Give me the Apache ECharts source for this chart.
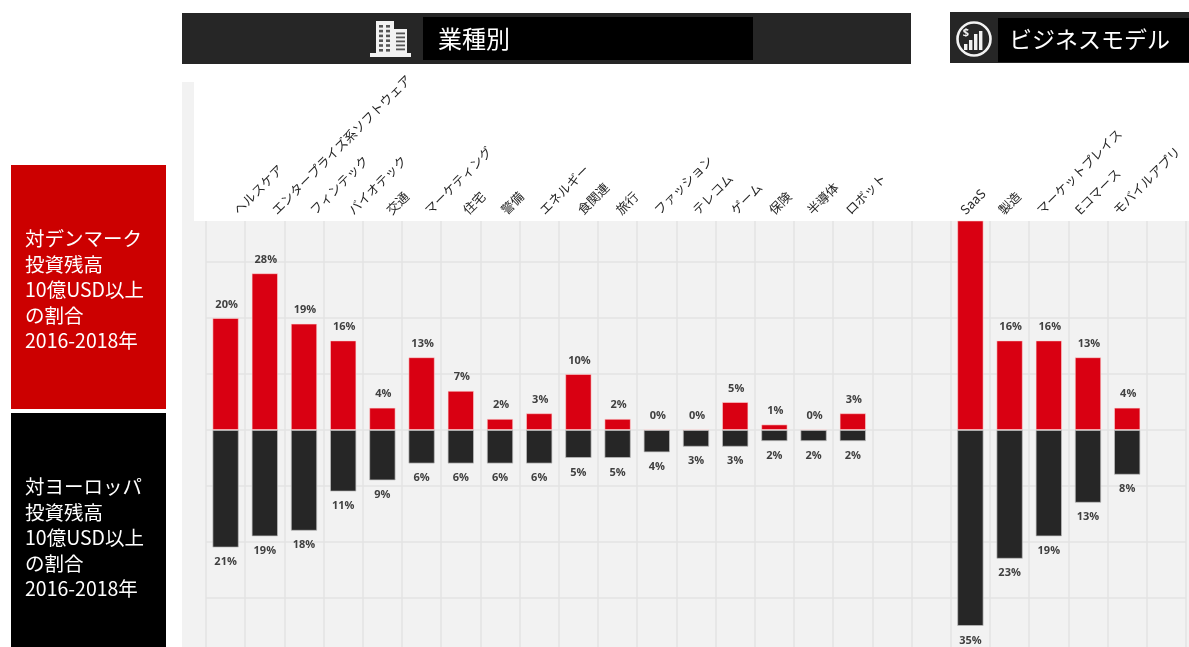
<!DOCTYPE html>
<html lang="ja">
<head>
<meta charset="utf-8">
<title>投資残高10億USD以上の割合</title>
<script src="https://cdn.jsdelivr.net/npm/echarts@6/dist/echarts.min.js"></script>
<style>
html,body{margin:0;padding:0;background:#fff;overflow:hidden}
#chart{width:1189px;height:647px}
</style>
</head>
<body>
<div id="chart"></div>
<script>
// Sectors and business models; empty names are spacer columns between the two groups
const categories = [
  'ヘルスケア', 'エンタープライズ系ソフトウェア', 'フィンテック', 'バイオテック', '交通',
  'マーケティング', '住宅', '警備', 'エネルギー', '食関連', '旅行', 'ファッション',
  'テレコム', 'ゲーム', '保険', '半導体', 'ロボット', '', '',
  'SaaS', '製造', 'マーケットプレイス', 'Eコマース', 'モバイルアプリ', ''
];

// Share of investment balance of 1bn USD or more, in percent (null = no bar)
const denmarkShare = [20, 28, 19, 16, 4, 13, 7, 2, 3, 10, 2, 0, 0, 5, 1, 0, 3, null, null, 38, 16, 16, 13, 4, null];
const europeShare = [21, 19, 18, 11, 9, 6, 6, 6, 6, 5, 5, 4, 3, 3, 2, 2, 2, null, null, 35, 23, 19, 13, 8, null];

// The SaaS bar runs off the top of the plot, so it carries no label
const unlabelledDenmark = ['SaaS'];

const gridValues = [-30, -20, -10, 0, 10, 20, 30];

const denmarkCaption = ['対デンマーク', '投資残高', '10億USD以上', 'の割合', '2016-2018年'];
const europeCaption = ['対ヨーロッパ', '投資残高', '10億USD以上', 'の割合', '2016-2018年'];
const sectorHeading = '業種別';
const modelHeading = 'ビジネスモデル';

const FONT = '"Noto Sans CJK JP", sans-serif';
const LABEL_FONT = '"Open Sans", sans-serif';
const RED = '#d90012';
const DARK = '#262626';
const PANEL = '#f2f2f2';
const LINE = '#e3e3e3';

const rect = (x, y, width, height, fill, z) => ({
  type: 'rect', shape: { x, y, width, height }, style: { fill }, z, silent: true
});

const caption = (lines, x, y0, step) => lines.map((text, i) => ({
  type: 'text', x, y: y0 + i * step, z: 120, silent: true,
  style: { text, fill: '#fff', font: '19.5px ' + FONT, textVerticalAlign: 'middle' }
}));

// Office block glyph for the sector heading
const buildingIcon = () => {
  const parts = [
    rect(376, 21, 18, 32, '#f2f2f2', 110),
    rect(393, 29, 14, 24, '#f2f2f2', 110),
    rect(370, 53, 41, 4, '#f2f2f2', 110)
  ];
  for (let row = 0; row < 6; row++) {
    parts.push(rect(379, 25 + row * 4.8, 4, 2.6, '#555', 111));
    parts.push(rect(386, 25 + row * 4.8, 4, 2.6, '#555', 111));
  }
  for (let row = 0; row < 5; row++) {
    parts.push(rect(396, 32.5 + row * 4, 9, 1.8, '#555', 111));
  }
  return parts;
};

// Ringed rising-bars glyph for the business model heading
const modelIcon = () => {
  const parts = [{
    type: 'circle', z: 110, silent: true,
    shape: { cx: 974, cy: 39, r: 16.5 },
    style: { fill: 'none', stroke: '#f2f2f2', lineWidth: 2.6 }
  }, {
    type: 'text', x: 966, y: 33, z: 111, silent: true,
    style: { text: '$', fill: '#f2f2f2', font: 'bold 11px ' + LABEL_FONT, textAlign: 'center', textVerticalAlign: 'middle' }
  }];
  [[964, 44, 6], [969, 40, 10], [974, 34, 16], [979, 31, 19]].forEach(([x, y, h]) => {
    parts.push(rect(x, y, 3.4, h, '#f2f2f2', 111));
  });
  return parts;
};

const chart = echarts.init(document.getElementById('chart'), null, { renderer: 'canvas' });

chart.setOption({
  animation: false,
  backgroundColor: '#fff',
  grid: [
    // Plot area
    { left: 206, right: 3, top: 221, bottom: 0, outerBoundsMode: 'none' },
    // Header row: the rotated names sit on a slightly tighter pitch than the columns
    { left: 216.5, width: 956.25, top: 221, height: 1, outerBoundsMode: 'none' }
  ],
  xAxis: [
    {
      type: 'category',
      gridIndex: 0,
      data: categories,
      axisLine: { show: false },
      axisTick: { show: false },
      axisLabel: { show: false },
      splitLine: { show: true, interval: 0, lineStyle: { color: LINE, width: 1.5 } }
    },
    {
      type: 'category',
      gridIndex: 1,
      position: 'top',
      data: categories,
      axisLine: { show: false },
      axisTick: { show: false },
      splitLine: { show: false },
      axisLabel: {
        show: true, interval: 0, rotate: 45, margin: 9,
        fontFamily: FONT, fontSize: 12.7, color: '#262626', hideOverlap: false
      }
    }
  ],
  yAxis: [
    {
      type: 'value',
      gridIndex: 0,
      min: -38.75,
      max: 37.32,
      axisLine: { show: false },
      axisTick: { show: false, customValues: gridValues },
      axisLabel: { show: false, customValues: gridValues },
      splitLine: { show: true, lineStyle: { color: LINE, width: 1.5 } }
    },
    { type: 'value', gridIndex: 1, show: false }
  ],
  series: [
    {
      name: '対デンマーク',
      type: 'bar',
      barWidth: 26.4,
      barGap: '-100%',
      data: denmarkShare,
      itemStyle: { color: RED, borderColor: 'rgba(255,215,215,0.55)', borderWidth: 1 },
      label: {
        show: true, position: 'top', distance: 8,
        fontFamily: LABEL_FONT, fontWeight: 'bold', fontSize: 11, color: '#404040', offset: [1, 0],
        formatter: p => (p.value == null || unlabelledDenmark.includes(p.name)) ? '' : p.value + '%'
      },
      z: 3
    },
    {
      name: '対ヨーロッパ',
      type: 'bar',
      barWidth: 26.4,
      barGap: '-100%',
      data: europeShare.map(v => v == null ? null : -v),
      itemStyle: { color: DARK, borderColor: 'rgba(190,190,190,0.7)', borderWidth: 1 },
      label: {
        show: true, position: 'bottom', distance: 9,
        fontFamily: LABEL_FONT, fontWeight: 'bold', fontSize: 11, color: '#404040',
        formatter: p => p.value == null ? '' : Math.abs(p.value) + '%'
      },
      z: 3
    }
  ],
  graphic: {
    elements: [
      // Grey plot backdrop and the strip beside the rotated labels
      rect(182, 221, 1007, 426, PANEL, -10),
      rect(182, 82, 12, 139, PANEL, -10),

      // Headings
      rect(182, 13, 729, 51, DARK, 100),
      rect(423, 17, 330, 43, '#000', 105),
      { type: 'text', x: 438, y: 39, z: 110, silent: true,
        style: { text: sectorHeading, fill: '#fff', font: '24px ' + FONT, textVerticalAlign: 'middle' } },
      ...buildingIcon(),
      rect(950, 12, 239, 51, DARK, 100),
      rect(998, 18, 191, 44, '#000', 105),
      { type: 'text', x: 1009, y: 39, z: 110, silent: true,
        style: { text: modelHeading, fill: '#fff', font: '23px ' + FONT, textVerticalAlign: 'middle' } },
      ...modelIcon(),

      // Row captions
      rect(11, 165, 155, 244, '#cc0000', 100),
      rect(11, 413, 155, 234, '#000', 100),
      ...caption(denmarkCaption, 25, 239, 25.5),
      ...caption(europeCaption, 25, 487, 25.5)
    ]
  }
});
</script>
</body>
</html>
